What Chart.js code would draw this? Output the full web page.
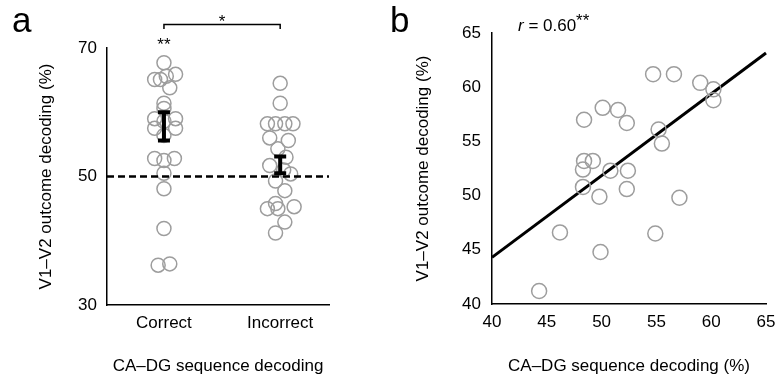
<!DOCTYPE html>
<html>
<head>
<meta charset="utf-8">
<script src="https://cdn.jsdelivr.net/npm/chart.js@4.4.1/dist/chart.umd.min.js"></script>
<style>
  body { margin: 0; background: #fff; }
  #wrap { position: relative; width: 776px; height: 382px; font-family: "Liberation Sans", Arial, sans-serif; }
  canvas { position: absolute; top: 0; }
  #chartA { left: 0; }
  #chartB { left: 390px; }
  .panel { position: absolute; font-size: 35px; line-height: 1; color: #000; }
</style>
</head>
<body>
<div id="wrap">
  <canvas id="chartA" width="390" height="382"></canvas>
  <canvas id="chartB" width="386" height="382"></canvas>
  <div class="panel" style="left:12px; top:2px">a</div>
  <div class="panel" style="left:390px; top:2px">b</div>
</div>
<script>
// panel a: V1-V2 outcome decoding split by CA-DG sequence decoding
const groups = ["Correct", "Incorrect"];
const correctValues = [67.7, 65.1, 65.1, 65.6, 65.9, 63.8, 61.4, 60.6, 59.0, 59.0, 58.6, 57.5, 57.5, 56.4, 52.8, 52.5, 52.8, 50.5, 48.1, 41.9, 36.2, 36.4];
const correctJitter = [0, -0.08, -0.03, 0.02, 0.1, 0.05, 0, 0, -0.08, 0.1, 0, -0.08, 0.1, 0, -0.08, 0, 0.09, 0, 0, 0, -0.05, 0.05];
const incorrectValues = [64.5, 61.4, 58.2, 58.2, 58.2, 58.2, 56.0, 55.6, 54.3, 53.0, 51.7, 51.0, 50.4, 49.3, 47.8, 45.8, 45.0, 45.0, 45.3, 42.9, 41.2];
const incorrectJitter = [0, 0, -0.11, -0.04, 0.04, 0.11, -0.09, 0.07, -0.02, 0.05, -0.09, 0.03, 0.09, -0.04, 0.04, -0.04, -0.11, -0.02, 0.12, 0.04, -0.04];
const errLow = [55.6, 50.5];
const errHigh = [60.0, 53.1];
const chanceLevel = 50;

// panel b: correlation
const seqDecoding = [54.7, 56.6, 59.0, 60.2, 60.2, 50.1, 51.5, 48.4, 52.3, 55.2, 55.5, 48.4, 49.2, 48.3, 50.8, 52.4, 48.3, 52.3, 49.8, 57.1, 46.2, 54.9, 49.9, 44.3];
const outcomeDecoding = [61.2, 61.2, 60.4, 59.8, 58.8, 58.1, 57.9, 57.0, 56.7, 56.1, 54.8, 53.2, 53.2, 52.4, 52.3, 52.3, 50.8, 50.6, 49.9, 49.8, 46.6, 46.5, 44.8, 41.2];
const fitX = [40, 65];
const fitY = [44.3, 63.15];

const FONT = "Liberation Sans, Arial, sans-serif";
Chart.defaults.font.family = FONT;
Chart.defaults.font.size = 17;
Chart.defaults.color = "#000";

const circleStyle = {
  pointRadius: 7,
  pointHoverRadius: 7,
  pointBorderWidth: 1.5,
  pointBorderColor: "#9d9d9d",
  pointBackgroundColor: "rgba(0,0,0,0)",
  showLine: false,
  clip: false,
};

const axisBase = {
  grid: { display: true, drawOnChartArea: false, drawTicks: false },
  border: { color: "#000", width: 1.5 },
};

// fixed axis boxes so the plot areas line up with the figure
const fitX_axis = (h) => (s) => {
  s.height = h;
  s.paddingLeft = 0;
  s.paddingRight = 0;
};
const fitY_axis = (w) => (s) => {
  s.width = w;
  s.paddingTop = 0;
  s.paddingBottom = 0;
};

// dashed chance line, error bars, significance marks
const panelAExtras = {
  id: "panelAExtras",
  afterDatasetsDraw(chart) {
    const { ctx, chartArea, scales: { x, y } } = chart;
    ctx.save();

    const yc = y.getPixelForValue(chanceLevel);
    ctx.strokeStyle = "#000";
    ctx.lineWidth = 2.5;
    ctx.setLineDash([7, 4]);
    ctx.beginPath();
    ctx.moveTo(chartArea.left, yc);
    ctx.lineTo(chartArea.right, yc);
    ctx.stroke();
    ctx.setLineDash([]);

    groups.forEach((g, i) => {
      const cx = x.getPixelForValue(i + 1);
      const top = y.getPixelForValue(errHigh[i]);
      const bot = y.getPixelForValue(errLow[i]);
      ctx.lineWidth = 4;
      ctx.beginPath();
      ctx.moveTo(cx, top);
      ctx.lineTo(cx, bot);
      ctx.moveTo(cx - 6, top);
      ctx.lineTo(cx + 6, top);
      ctx.moveTo(cx - 6, bot);
      ctx.lineTo(cx + 6, bot);
      ctx.stroke();
    });

    const x1 = x.getPixelForValue(1);
    const x2 = x.getPixelForValue(2);
    ctx.lineWidth = 1.5;
    ctx.beginPath();
    ctx.moveTo(x1, 29);
    ctx.lineTo(x1, 24.5);
    ctx.lineTo(x2, 24.5);
    ctx.lineTo(x2, 29);
    ctx.stroke();

    ctx.fillStyle = "#000";
    ctx.font = "17px " + FONT;
    ctx.textAlign = "center";
    ctx.textBaseline = "alphabetic";
    ctx.fillText("*", (x1 + x2) / 2, 27);
    ctx.fillText("**", x1, 50);
    ctx.restore();
  },
};

new Chart(document.getElementById("chartA"), {
  type: "scatter",
  data: {
    datasets: [
      {
        data: correctValues.map((v, i) => ({ x: 1 + correctJitter[i], y: v })),
        ...circleStyle,
      },
      {
        data: incorrectValues.map((v, i) => ({ x: 2 + incorrectJitter[i], y: v })),
        ...circleStyle,
      },
    ],
  },
  options: {
    responsive: false,
    animation: false,
    layout: { padding: { top: 48, right: 61, left: 0, bottom: 0 } },
    plugins: { legend: { display: false }, tooltip: { enabled: false } },
    scales: {
      x: {
        ...axisBase,
        type: "linear",
        min: 0.51,
        max: 2.42,
        afterBuildTicks: (s) => {
          s.ticks = [{ value: 1 }, { value: 2 }];
        },
        afterFit: fitX_axis(77),
        ticks: {
          padding: 8,
          callback: (v) => groups[v - 1],
        },
        title: {
          display: true,
          text: "CA–DG sequence decoding",
          padding: { top: 0, bottom: 5 },
        },
      },
      y: {
        ...axisBase,
        min: 30,
        max: 70,
        ticks: { stepSize: 20, padding: 10 },
        afterFit: fitY_axis(107),
        title: {
          display: true,
          text: "V1–V2 outcome decoding (%)",
          padding: { top: 36, bottom: 0 },
        },
      },
    },
  },
  plugins: [panelAExtras],
});

const panelBText = {
  id: "panelBText",
  afterDraw(chart) {
    const { ctx } = chart;
    ctx.save();
    ctx.fillStyle = "#000";
    ctx.textBaseline = "alphabetic";
    ctx.textAlign = "left";
    ctx.font = "italic 17px " + FONT;
    let px = 128;
    ctx.fillText("r", px, 31);
    px += ctx.measureText("r").width;
    ctx.font = "17px " + FONT;
    ctx.fillText(" = 0.60", px, 31);
    px += ctx.measureText(" = 0.60").width;
    ctx.fillText("**", px, 26);
    ctx.restore();
  },
};

new Chart(document.getElementById("chartB"), {
  type: "scatter",
  data: {
    datasets: [
      {
        data: seqDecoding.map((v, i) => ({ x: v, y: outcomeDecoding[i] })),
        ...circleStyle,
        pointRadius: 7.5,
        pointHoverRadius: 7.5,
      },
      {
        type: "line",
        data: fitX.map((v, i) => ({ x: v, y: fitY[i] })),
        borderColor: "#000",
        borderWidth: 3,
        pointRadius: 0,
        fill: false,
        clip: false,
      },
    ],
  },
  options: {
    responsive: false,
    animation: false,
    layout: { padding: { top: 33, right: 10, left: 0, bottom: 0 } },
    plugins: { legend: { display: false }, tooltip: { enabled: false } },
    scales: {
      x: {
        ...axisBase,
        type: "linear",
        min: 40,
        max: 65,
        ticks: { stepSize: 5, padding: 8 },
        afterFit: fitX_axis(78),
        title: {
          display: true,
          text: "CA–DG sequence decoding (%)",
          padding: { top: 0, bottom: 5 },
        },
      },
      y: {
        ...axisBase,
        min: 40,
        max: 65,
        ticks: { stepSize: 5, padding: 11 },
        afterFit: fitY_axis(102),
        title: {
          display: true,
          text: "V1–V2 outcome decoding (%)",
          padding: { top: 23, bottom: 0 },
        },
      },
    },
  },
  plugins: [panelBText],
});
</script>
</body>
</html>
